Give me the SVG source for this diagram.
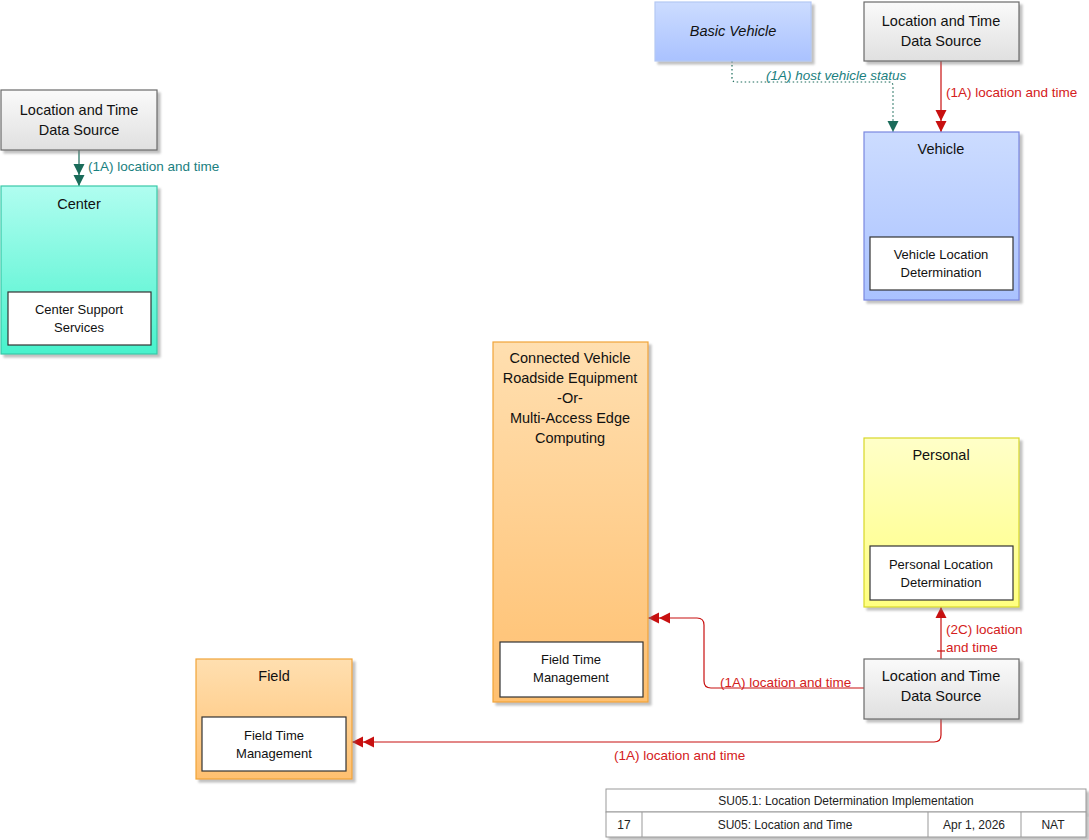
<svg xmlns="http://www.w3.org/2000/svg" width="1089" height="840" viewBox="0 0 1089 840">
<style>
text{font-family:"Liberation Sans",Arial,sans-serif;fill:#111}
.t{font-size:14.5px;text-anchor:middle}
.s{font-size:13px;text-anchor:middle}
.lbl{font-size:13.5px}
.red{fill:#d42020}
.teal{fill:#1a8080}
.box{stroke-width:1.2}
.inner{fill:#fff;stroke:#333;stroke-width:1.2}
.tb{fill:#fff;stroke:#999;stroke-width:1}
.tbt{font-size:12px;text-anchor:middle;fill:#222}
.cr{fill:none;stroke:#c81010;stroke-width:1.2}
.ct{fill:none;stroke:#1a6b5a;stroke-width:1.2}
</style>
<defs>
<filter id="sh" x="-10%" y="-10%" width="130%" height="130%">
<feDropShadow dx="3" dy="3" stdDeviation="1" flood-color="#777" flood-opacity="0.45"/>
</filter>
<linearGradient id="gGray" x1="0" y1="0" x2="0" y2="1"><stop offset="0" stop-color="#fafafa"/><stop offset="1" stop-color="#e0e0e0"/></linearGradient>
<linearGradient id="gCenter" x1="0" y1="0" x2="0" y2="1"><stop offset="0" stop-color="#b0fdf0"/><stop offset="1" stop-color="#48f2cc"/></linearGradient>
<linearGradient id="gBlue" x1="0" y1="0" x2="0" y2="1"><stop offset="0" stop-color="#ccdcff"/><stop offset="1" stop-color="#aac2ff"/></linearGradient>
<linearGradient id="gOrange" x1="0" y1="0" x2="0" y2="1"><stop offset="0" stop-color="#ffdfb0"/><stop offset="1" stop-color="#ffc070"/></linearGradient>
<linearGradient id="gYellow" x1="0" y1="0" x2="0" y2="1"><stop offset="0" stop-color="#ffffc8"/><stop offset="1" stop-color="#ffff80"/></linearGradient>
<marker id="dblRed" markerUnits="userSpaceOnUse" markerWidth="22" markerHeight="12" refX="22" refY="6" orient="auto"><path d="M0,0.5 L11,6 L0,11.5 Z M11,0.5 L22,6 L11,11.5 Z" fill="#c81010"/></marker>
<marker id="dblTeal" markerUnits="userSpaceOnUse" markerWidth="22" markerHeight="12" refX="22" refY="6" orient="auto"><path d="M0,0.5 L11,6 L0,11.5 Z M11,0.5 L22,6 L11,11.5 Z" fill="#1a6b5a"/></marker>
<marker id="sRed" markerUnits="userSpaceOnUse" markerWidth="12" markerHeight="12" refX="11" refY="6" orient="auto"><path d="M0,0.5 L11,6 L0,11.5 Z" fill="#c81010"/></marker>
<marker id="sTeal" markerUnits="userSpaceOnUse" markerWidth="12" markerHeight="12" refX="11" refY="6" orient="auto"><path d="M0,0.5 L11,6 L0,11.5 Z" fill="#1a6b5a"/></marker>
</defs>

<g id="connectors">
<path class="ct" d="M79,150 V186" marker-end="url(#dblTeal)"/>
<path class="ct" d="M732,61 V78 Q732,82 736,82 H889 Q893,82 893,86 V132" stroke-dasharray="1.5,2.5" marker-end="url(#sTeal)"/>
<path class="cr" d="M941,61 V132" marker-end="url(#dblRed)"/>
<path class="cr" d="M864,688 H711 Q704,688 704,681 V625 Q704,618 697,618 H648" marker-end="url(#dblRed)"/>
<path class="cr" d="M941,719 V735 Q941,742 934,742 H352" marker-end="url(#dblRed)"/>
<path class="cr" d="M941,659 V607" marker-end="url(#sRed)"/>
<path class="cr" d="M937,651 H945"/>
<text class="lbl teal" x="88" y="171">(1A) location and time</text>
<text class="lbl teal" x="766" y="80" font-style="italic">(1A) host vehicle status</text>
<text class="lbl red" x="946" y="97">(1A) location and time</text>
<text class="lbl red" x="720" y="687">(1A) location and time</text>
<text class="lbl red" x="614" y="760">(1A) location and time</text>
<text class="lbl red" x="946" y="634">(2C) location</text>
<text class="lbl red" x="946" y="652">and time</text>
</g>

<g id="ltds-left">
<rect class="box" x="1" y="90" width="156" height="60" fill="url(#gGray)" stroke="#6a6a6a" filter="url(#sh)"/>
<text class="t" x="79" y="115">Location and Time</text>
<text class="t" x="79" y="135">Data Source</text>
</g>

<g id="center">
<rect class="box" x="1" y="186" width="156" height="168" fill="url(#gCenter)" stroke="#38c8a8" filter="url(#sh)"/>
<text class="t" x="79" y="209">Center</text>
<rect class="inner" x="8" y="292" width="143" height="53"/>
<text class="s" x="79" y="314">Center Support</text>
<text class="s" x="79" y="332">Services</text>
</g>

<g id="basic-vehicle">
<rect class="box" x="655" y="2" width="156" height="59" fill="url(#gBlue)" stroke="#b4c8f4" filter="url(#sh)"/>
<text class="t" x="733" y="36" font-style="italic">Basic Vehicle</text>
</g>

<g id="ltds-top">
<rect class="box" x="864" y="2" width="155" height="59" fill="url(#gGray)" stroke="#6a6a6a" filter="url(#sh)"/>
<text class="t" x="941" y="26">Location and Time</text>
<text class="t" x="941" y="46">Data Source</text>
</g>

<g id="vehicle">
<rect class="box" x="864" y="132" width="155" height="168" fill="url(#gBlue)" stroke="#7a88e0" filter="url(#sh)"/>
<text class="t" x="941" y="154">Vehicle</text>
<rect class="inner" x="870" y="237" width="143" height="53"/>
<text class="s" x="941" y="259">Vehicle Location</text>
<text class="s" x="941" y="277">Determination</text>
</g>

<g id="cvre">
<rect class="box" x="493" y="342" width="155" height="360" fill="url(#gOrange)" stroke="#f0a438" filter="url(#sh)"/>
<text class="t" x="570" y="363">Connected Vehicle</text>
<text class="t" x="570" y="383">Roadside Equipment</text>
<text class="t" x="570" y="403">-Or-</text>
<text class="t" x="570" y="423">Multi-Access Edge</text>
<text class="t" x="570" y="443">Computing</text>
<rect class="inner" x="500" y="642" width="143" height="55"/>
<text class="s" x="571" y="664">Field Time</text>
<text class="s" x="571" y="682">Management</text>
</g>

<g id="personal">
<rect class="box" x="864" y="438" width="155" height="169" fill="url(#gYellow)" stroke="#d8d828" filter="url(#sh)"/>
<text class="t" x="941" y="460">Personal</text>
<rect class="inner" x="870" y="546" width="143" height="54"/>
<text class="s" x="941" y="569">Personal Location</text>
<text class="s" x="941" y="587">Determination</text>
</g>

<g id="ltds-bottom">
<rect class="box" x="864" y="659" width="155" height="60" fill="url(#gGray)" stroke="#6a6a6a" filter="url(#sh)"/>
<text class="t" x="941" y="681">Location and Time</text>
<text class="t" x="941" y="701">Data Source</text>
</g>

<g id="field">
<rect class="box" x="196" y="659" width="156" height="120" fill="url(#gOrange)" stroke="#f0a438" filter="url(#sh)"/>
<text class="t" x="274" y="681">Field</text>
<rect class="inner" x="202" y="717" width="144" height="54"/>
<text class="s" x="274" y="740">Field Time</text>
<text class="s" x="274" y="758">Management</text>
</g>

<g id="title-block">
<rect class="tb" x="606" y="789" width="480" height="23" filter="url(#sh)"/>
<rect class="tb" x="606" y="812" width="480" height="25" filter="url(#sh)"/>
<line x1="642" y1="812" x2="642" y2="837" stroke="#999"/>
<line x1="928" y1="812" x2="928" y2="837" stroke="#999"/>
<line x1="1021" y1="812" x2="1021" y2="837" stroke="#999"/>
<text class="tbt" x="846" y="805">SU05.1: Location Determination Implementation</text>
<text class="tbt" x="624" y="829">17</text>
<text class="tbt" x="785" y="829">SU05: Location and Time</text>
<text class="tbt" x="974" y="829">Apr 1, 2026</text>
<text class="tbt" x="1053" y="829">NAT</text>
</g>
</svg>
